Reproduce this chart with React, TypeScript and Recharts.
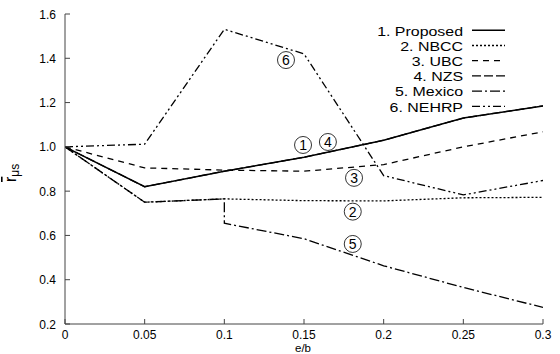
import React from 'react';
import { LineChart, Line, XAxis, YAxis, ReferenceDot } from 'recharts';

const xTicks = [0, 0.05, 0.1, 0.15, 0.2, 0.25, 0.3];
const yTicks = [0.2, 0.4, 0.6, 0.8, 1.0, 1.2, 1.4, 1.6];

const proposed = [
  { x: 0, y: 1.0 }, { x: 0.05, y: 0.82 }, { x: 0.1, y: 0.89 }, { x: 0.15, y: 0.953 },
  { x: 0.2, y: 1.03 }, { x: 0.25, y: 1.13 }, { x: 0.3, y: 1.185 },
];
const nbcc = [
  { x: 0, y: 1.0 }, { x: 0.05, y: 0.75 }, { x: 0.1, y: 0.765 }, { x: 0.15, y: 0.757 },
  { x: 0.2, y: 0.756 }, { x: 0.25, y: 0.77 }, { x: 0.3, y: 0.772 },
];
const ubc = [
  { x: 0, y: 1.0 }, { x: 0.05, y: 0.905 }, { x: 0.1, y: 0.895 }, { x: 0.15, y: 0.89 },
  { x: 0.2, y: 0.92 }, { x: 0.25, y: 1.0 }, { x: 0.3, y: 1.068 },
];
const nzs = [
  { x: 0, y: 1.0 }, { x: 0.05, y: 0.82 }, { x: 0.1, y: 0.89 }, { x: 0.15, y: 0.953 },
  { x: 0.2, y: 1.03 }, { x: 0.25, y: 1.13 }, { x: 0.3, y: 1.185 },
];
const mexico = [
  { x: 0, y: 1.0 }, { x: 0.05, y: 0.75 }, { x: 0.1, y: 0.765 }, { x: 0.1, y: 0.655 },
  { x: 0.15, y: 0.585 }, { x: 0.2, y: 0.463 }, { x: 0.25, y: 0.365 }, { x: 0.3, y: 0.275 },
];
const nehrp = [
  { x: 0, y: 1.0 }, { x: 0.05, y: 1.012 }, { x: 0.1, y: 1.531 }, { x: 0.15, y: 1.42 },
  { x: 0.2, y: 0.87 }, { x: 0.25, y: 0.783 }, { x: 0.3, y: 0.848 },
];

const seriesNames = ['1. Proposed', '2. NBCC', '3. UBC', '4. NZS', '5. Mexico', '6. NEHRP'];

const annotations = [
  { label: '6', x: 0.1387, y: 1.392 },
  { label: '1', x: 0.1494, y: 1.0085 },
  { label: '4', x: 0.165, y: 1.022 },
  { label: '3', x: 0.1814, y: 0.86 },
  { label: '2', x: 0.1806, y: 0.7075 },
  { label: '5', x: 0.1806, y: 0.5615 },
];

const FONT = '"Liberation Sans", Arial, Helvetica, sans-serif';
const FRAME = '#444';

const styles = [
  { dash: undefined, width: 1.5 },
  { dash: '2 2', width: 1.3 },
  { dash: '6 5', width: 1.3 },
  { dash: '9 3', width: 1.3 },
  { dash: '10 3 2 3', width: 1.3 },
  { dash: '8 3 2 3 2 3', width: 1.3 },
];

const seriesData = [proposed, nbcc, ubc, nzs, mexico, nehrp];
const drawOrder = [3, 1, 2, 4, 5, 0];

const fmtX = (v: number) => (v === 0 ? '0' : String(v));
const fmtY = (v: number) => v.toFixed(1);

const BottomTick = (props: any) => {
  const { x, y, payload } = props;
  return (
    <g>
      <line x1={x} y1={y} x2={x} y2={y - 5} stroke={FRAME} />
      <text x={x} y={y + 15} textAnchor="middle" fontSize={12} fontFamily={FONT} fill="#000">
        {fmtX(payload.value)}
      </text>
    </g>
  );
};
const TopTick = (props: any) => {
  const { x, y } = props;
  return <line x1={x} y1={y} x2={x} y2={y + 5} stroke={FRAME} />;
};
const LeftTick = (props: any) => {
  const { x, y, payload } = props;
  return (
    <g>
      <line x1={x} y1={y} x2={x + 5} y2={y} stroke={FRAME} />
      <text x={x - 9} y={y + 4.5} textAnchor="end" fontSize={12} fontFamily={FONT} fill="#000">
        {fmtY(payload.value)}
      </text>
    </g>
  );
};
const RightTick = (props: any) => {
  const { x, y } = props;
  return <line x1={x} y1={y} x2={x - 5} y2={y} stroke={FRAME} />;
};

const CircleLabel = (label: string) => (props: any) => {
  const { cx, cy } = props;
  return (
    <g>
      <circle cx={cx} cy={cy} r={8.5} fill="none" stroke="#000" strokeWidth={0.8} />
      <text x={cx} y={cy + 5} textAnchor="middle" fontSize={14} fontFamily={FONT} fill="#000">
        {label}
      </text>
    </g>
  );
};

const YLabel = () => (
  <text transform="translate(16,182) rotate(-90)" fontFamily={FONT} fill="#000">
    <tspan fontSize={16} textDecoration="overline">r</tspan>
    <tspan fontSize={12} dy={3}>μs</tspan>
  </text>
);

const XLabel = () => (
  <text x={303} y={351.5} textAnchor="middle" fontSize={11.5} fontFamily={FONT} fill="#000">
    e/b
  </text>
);

export default function App() {
  return (
    <div style={{ position: 'absolute', left: 0, top: 0, width: 560, height: 354 }}>
      <LineChart width={560} height={354} margin={{ top: 14, right: 17, bottom: 0, left: 15 }}>
        <XAxis
          dataKey="x"
          type="number"
          domain={[0, 0.3]}
          ticks={xTicks}
          allowDataOverflow
          height={30}
          tickSize={0}
          tickMargin={0}
          tick={BottomTick}
          axisLine={{ stroke: FRAME }}
          tickLine={false}
          interval={0}
          label={{ content: XLabel }}
        />
        <XAxis
          xAxisId="t"
          orientation="top"
          dataKey="x"
          type="number"
          domain={[0, 0.3]}
          ticks={xTicks}
          allowDataOverflow
          height={0}
          tickSize={0}
          tickMargin={0}
          tick={TopTick}
          axisLine={{ stroke: FRAME }}
          tickLine={false}
          interval={0}
        />
        <YAxis
          type="number"
          domain={[0.2, 1.6]}
          ticks={yTicks}
          allowDataOverflow
          width={50}
          tickSize={0}
          tickMargin={0}
          tick={LeftTick}
          axisLine={{ stroke: FRAME }}
          tickLine={false}
          interval={0}
          label={{ content: YLabel }}
        />
        <YAxis
          yAxisId="r"
          orientation="right"
          type="number"
          domain={[0.2, 1.6]}
          ticks={yTicks}
          allowDataOverflow
          width={0}
          tickSize={0}
          tickMargin={0}
          tick={RightTick}
          axisLine={{ stroke: FRAME }}
          tickLine={false}
          interval={0}
        />
        {drawOrder.map((i) => (
          <Line
            key={seriesNames[i]}
            data={seriesData[i]}
            dataKey="y"
            name={seriesNames[i]}
            type="linear"
            stroke="#000"
            strokeWidth={styles[i].width}
            strokeDasharray={styles[i].dash}
            dot={false}
            activeDot={false}
            isAnimationActive={false}
          />
        ))}
        {annotations.map((a) => (
          <ReferenceDot key={a.label} x={a.x} y={a.y} r={8.5} shape={CircleLabel(a.label)} />
        ))}
      </LineChart>
      <svg
        width={560}
        height={354}
        style={{ position: 'absolute', left: 0, top: 0, pointerEvents: 'none' }}
      >
        {seriesNames.map((name, i) => {
          const cy = 30.3 + i * 15.2;
          return (
            <g key={name}>
              <text
                transform={`translate(463,${cy + 5.2}) scale(1.18,1)`}
                x={0}
                y={0}
                textAnchor="end"
                fontSize={13.5}
                fontFamily={FONT}
                fill="#000"
              >
                {name}
              </text>
              <line
                x1={472}
                y1={cy}
                x2={505}
                y2={cy}
                stroke="#000"
                strokeWidth={styles[i].width}
                strokeDasharray={styles[i].dash}
              />
            </g>
          );
        })}
      </svg>
    </div>
  );
}
